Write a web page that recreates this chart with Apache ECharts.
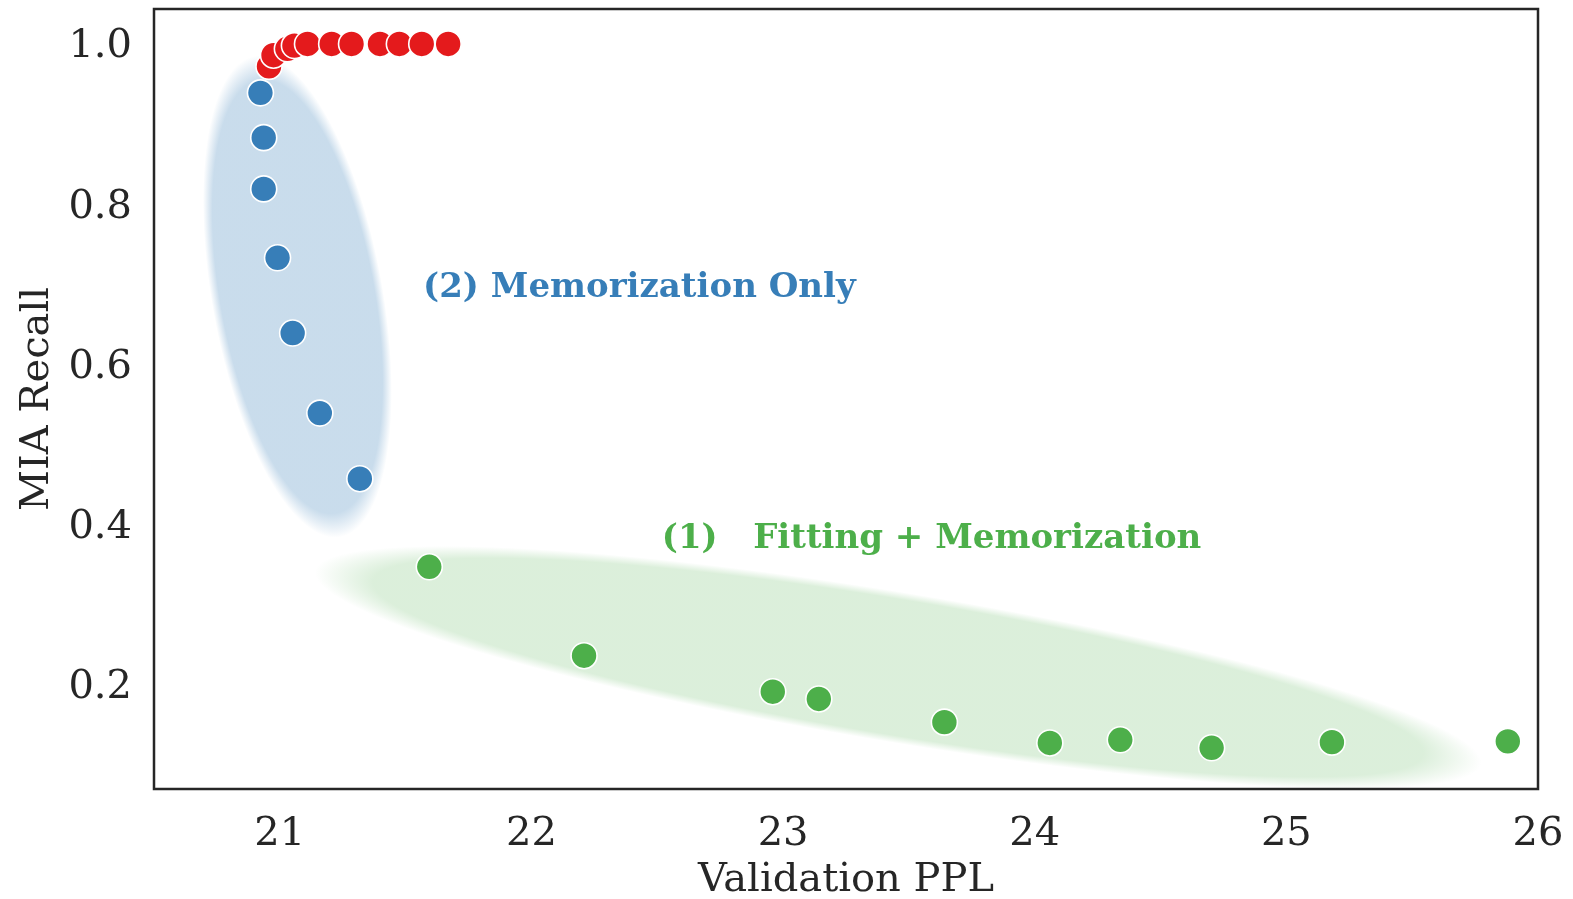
<!DOCTYPE html>
<html>
<head>
<meta charset="utf-8">
<script src="https://cdn.jsdelivr.net/npm/echarts@6/dist/echarts.min.js"></script>
<style>
html,body{margin:0;padding:0;background:#fff;}
#chart{width:1573px;height:899px;}
</style>
</head>
<body>
<div id="chart"></div>
<script>
// ---- data ----
const xTicks = [21, 22, 23, 24, 25, 26];
const yTicks = [0.2, 0.4, 0.6, 0.8, 1.0];

const redX = [20.957, 20.975, 21.030, 21.058, 21.110, 21.206, 21.285, 21.398, 21.475, 21.564, 21.669];
const redY = [0.972, 0.986, 0.994, 0.998, 1.0, 1.0, 1.0, 1.0, 1.0, 1.0, 1.0];

const blueX = [20.923, 20.936, 20.936, 20.991, 21.051, 21.159, 21.318];
const blueY = [0.939, 0.883, 0.819, 0.733, 0.639, 0.539, 0.457];

const greenX = [21.594, 22.209, 22.959, 23.142, 23.641, 24.060, 24.340, 24.703, 25.181, 25.880];
const greenY = [0.347, 0.236, 0.191, 0.182, 0.153, 0.127, 0.131, 0.121, 0.128, 0.129];

// region ellipses: major-axis end points in data coords, minor/major ratio
const blueRegion = [20.900, 0.985, 21.240, 0.384, 0.35];
const greenRegion = [21.140, 0.3415, 25.775, 0.101, 0.127];

const annotationText = ['(2) Memorization Only', '(1)   Fitting + Memorization'];
const annotationX = [22.429, 23.59];
const annotationY = [0.6945, 0.3815];

// ---- chart ----
const chart = echarts.init(document.getElementById('chart'), null, {renderer: 'canvas'});
const ink = '#262626';
const serif = 'DejaVu Serif';

function zip(xs, ys) { return xs.map((x, i) => [x, ys[i]]); }

function ellipseRenderer(rgb, alpha) {
  return function (params, api) {
    const p1 = api.coord([api.value(0), api.value(1)]);
    const p2 = api.coord([api.value(2), api.value(3)]);
    const ratio = api.value(4);
    const dx = p2[0] - p1[0], dy = p2[1] - p1[1];
    const a = Math.sqrt(dx * dx + dy * dy) / 2;
    const b = a * ratio;
    const cx = (p1[0] + p2[0]) / 2, cy = (p1[1] + p2[1]) / 2;
    const c0 = 'rgba(' + rgb + ',' + alpha + ')';
    const c1 = 'rgba(' + rgb + ',0)';
    return {
      type: 'circle',
      x: cx, y: cy,
      rotation: Math.atan2(-dy, dx),
      scaleX: a / b, scaleY: 1,
      shape: {cx: 0, cy: 0, r: b},
      style: {
        fill: new echarts.graphic.RadialGradient(0.5, 0.5, 0.5, [
          {offset: 0, color: c0},
          {offset: 0.9, color: c0},
          {offset: 1, color: c1}
        ])
      },
      silent: true
    };
  };
}

const pointStyle = (color) => ({color: color, borderColor: '#ffffff', borderWidth: 1.6, opacity: 1});

const option = {
  backgroundColor: '#ffffff',
  animation: false,
  grid: {
    left: 154, right: 35, top: 9, bottom: 110,
    outerBoundsMode: 'none', containLabel: false,
    show: true, borderColor: ink, borderWidth: 2.5, backgroundColor: 'transparent'
  },
  xAxis: {
    type: 'value', min: 20.5, max: 26,
    name: 'Validation PPL', nameLocation: 'middle', nameGap: 72,
    nameTextStyle: {fontFamily: serif, fontSize: 40, color: ink},
    axisLine: {show: false}, axisTick: {show: false}, splitLine: {show: false},
    axisLabel: {
      customValues: xTicks, margin: 26,
      fontFamily: serif, fontSize: 40, color: ink,
      formatter: v => String(Math.round(v))
    }
  },
  yAxis: {
    type: 'value', min: 0.0695, max: 1.0437,
    name: 'MIA Recall', nameLocation: 'middle', nameGap: 94,
    nameTextStyle: {fontFamily: serif, fontSize: 40, color: ink},
    axisLine: {show: false}, axisTick: {show: false}, splitLine: {show: false},
    axisLabel: {
      customValues: yTicks, margin: 22,
      fontFamily: serif, fontSize: 40, color: ink,
      formatter: v => '{t|' + v.toFixed(1) + '}',
      rich: {t: {fontFamily: serif, fontSize: 40, color: ink, padding: [6, 0, 0, 0]}}
    }
  },
  series: [
    {
      type: 'custom', z: 1,
      renderItem: ellipseRenderer('55,126,184', 0.27),
      data: [blueRegion], silent: true, clip: true
    },
    {
      type: 'custom', z: 1,
      renderItem: ellipseRenderer('77,175,74', 0.2),
      data: [greenRegion], silent: true, clip: true
    },
    {
      type: 'scatter', z: 3, symbolSize: 26,
      itemStyle: pointStyle('#377eb8'),
      data: zip(blueX, blueY)
    },
    {
      type: 'scatter', z: 3, symbolSize: 26,
      itemStyle: pointStyle('#4daf4a'),
      data: zip(greenX, greenY)
    },
    {
      type: 'scatter', z: 4, symbolSize: 26,
      itemStyle: pointStyle('#e41a1c'),
      data: zip(redX, redY)
    },
    {
      type: 'scatter', z: 5, symbolSize: 1,
      itemStyle: {color: 'rgba(0,0,0,0)', opacity: 1},
      silent: true,
      data: annotationText.map((t, i) => ({
        value: [annotationX[i], annotationY[i]],
        label: {
          show: true, position: 'inside', formatter: t,
          fontFamily: serif, fontWeight: 'bold', fontSize: 34, opacity: 1,
          textBorderWidth: 0, textBorderColor: 'transparent',
          color: i === 0 ? '#377eb8' : '#4daf4a'
        }
      }))
    }
  ]
};
chart.setOption(option);
</script>
</body>
</html>
